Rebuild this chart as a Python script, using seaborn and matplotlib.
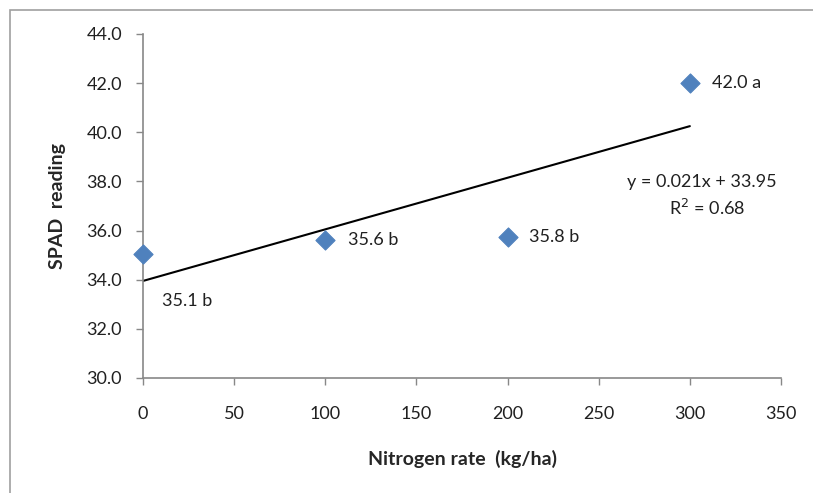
import numpy as np
import pandas as pd
import matplotlib
matplotlib.use("Agg")
import matplotlib.pyplot as plt
from matplotlib.patches import Rectangle
import seaborn as sns

# data
nitrogen = [0, 100, 200, 300]
spad = [35.05, 35.6, 35.75, 42.0]
labels = ["35.1 b", "35.6 b", "35.8 b", "42.0 a"]
xticks = [0, 50, 100, 150, 200, 250, 300, 350]
yticks = [30, 32, 34, 36, 38, 40, 42, 44]

df = pd.DataFrame({"N": nitrogen, "SPAD": spad, "lab": labels})

sns.set_style("white")
plt.rcParams["font.family"] = ["Lato", "DejaVu Sans"]

fig = plt.figure(figsize=(8.13, 4.93), dpi=100)
ax = fig.add_axes([143 / 813, 1 - 378 / 493, (781 - 143) / 813, (378 - 34) / 493])

# outer chart border
fig.patches.append(Rectangle((10 / 813, -0.1), 1.1, 1 - 10 / 493 + 0.1, transform=fig.transFigure,
                             fill=False, edgecolor="#a0a0a0", lw=1.2))

# linear trend line fitted to the data
slope, intercept = np.polyfit(df["N"], df["SPAD"], 1)
r2 = np.corrcoef(df["N"], df["SPAD"])[0, 1] ** 2
xs = np.array([0, 300])
ax.plot(xs, slope * xs + intercept, color="black", lw=1.5, zorder=2)

sns.scatterplot(data=df, x="N", y="SPAD", marker="D", s=95, color="#4f81bd",
                edgecolor="#4f81bd", ax=ax, zorder=3, clip_on=False)

offsets = [(14, -34), (16, 0), (15.5, 0), (16, 0)]
for (x, y, t), (dx, dy) in zip(zip(df["N"], df["SPAD"], df["lab"]), offsets):
    ax.annotate(t, (x, y), xytext=(dx, dy), textcoords="offset points",
                ha="left", va="center", fontsize=13, color="#202020")

ax.text(0.876, 0.570, "y = {:.3f}x + {:.2f}".format(slope, intercept), transform=ax.transAxes,
        ha="center", va="center", fontsize=13, color="#202020")
ax.text(0.884, 0.494, "R$^2$ = {:.2f}".format(r2), transform=ax.transAxes,
        ha="center", va="center", fontsize=13, color="#202020")

ax.set_xlim(0, 350)
ax.set_ylim(30, 44)
ax.set_xticks(xticks)
ax.set_yticks(yticks)
ax.set_xticklabels([str(v) for v in xticks])
ax.set_yticklabels(["{:.1f}".format(v) for v in yticks])
ax.tick_params(axis="both", direction="out", length=5, width=1, color="#888888",
               labelsize=13, labelcolor="#202020", bottom=True, left=True)
ax.tick_params(axis="x", pad=15)
ax.tick_params(axis="y", pad=10)

sns.despine(ax=ax)
for s in ["left", "bottom"]:
    ax.spines[s].set_color("#888888")
    ax.spines[s].set_linewidth(1.2)

ax.set_xlabel("Nitrogen rate  (kg/ha)", fontsize=14, fontweight="bold", labelpad=20)
ax.set_ylabel("SPAD  reading", fontsize=14, fontweight="bold", labelpad=15)

fig.savefig("out.png", dpi=100)
